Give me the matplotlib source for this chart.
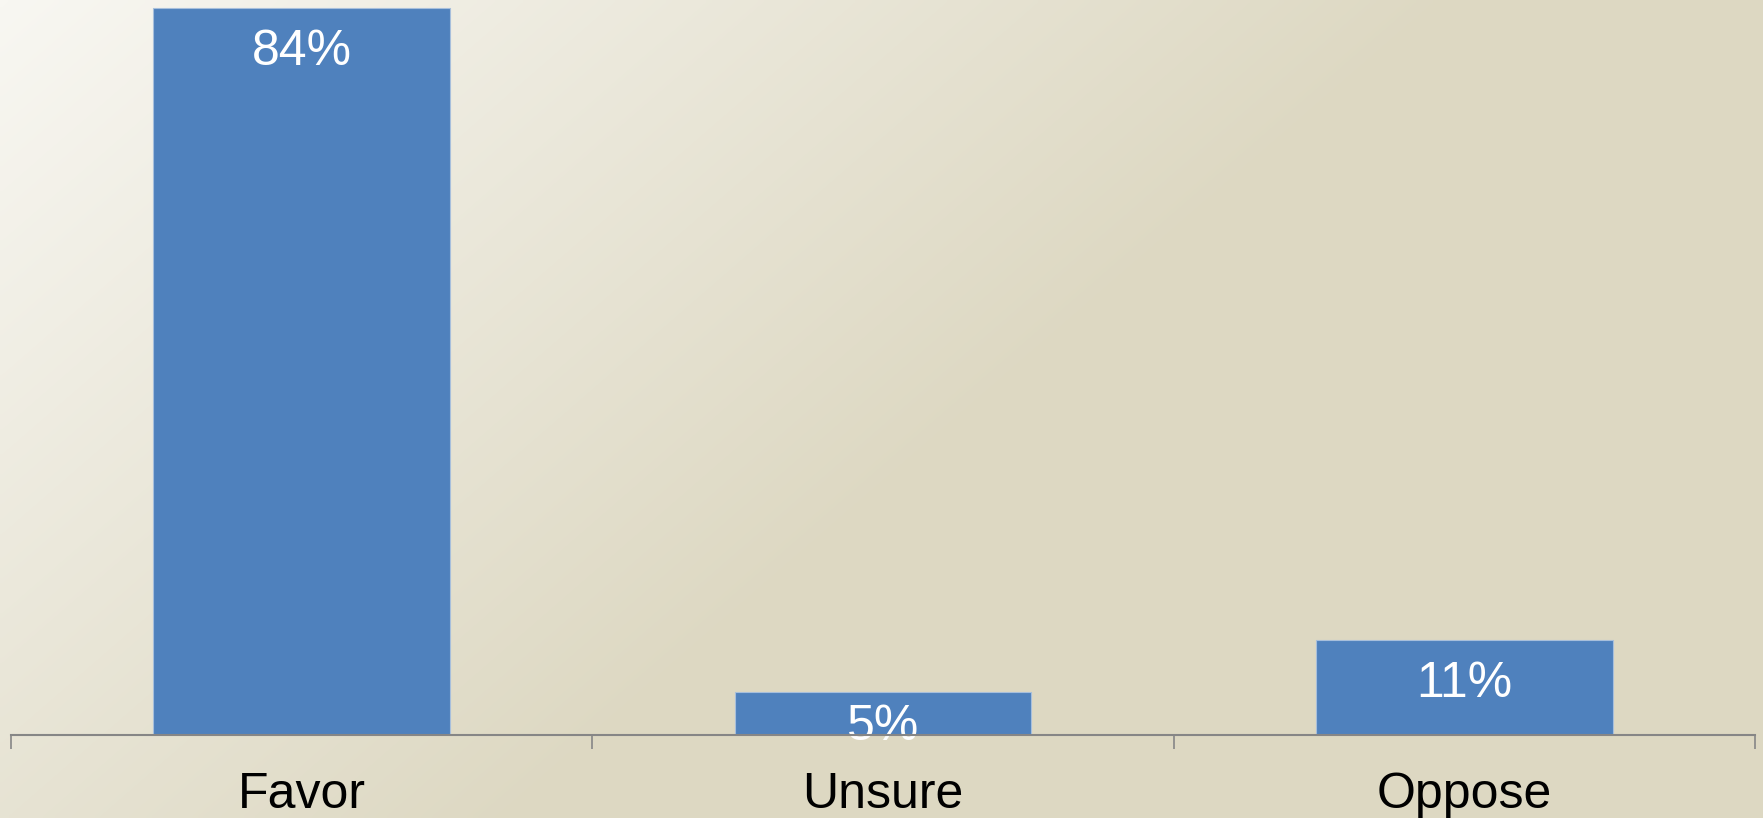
import numpy as np
import matplotlib
matplotlib.use("Agg")
from matplotlib import pyplot as plt
from matplotlib.colors import LinearSegmentedColormap

# survey results
categories = ["Favor", "Unsure", "Oppose"]
values = [84, 5, 11]
value_labels = ["84%", "5%", "11%"]

plt.rcParams['font.family'] = ['Liberation Sans', 'DejaVu Sans']

W, H, DPI = 1763, 818, 100
fig = plt.figure(figsize=(W / DPI, H / DPI), dpi=DPI)

# background gradient, light at the left / top-left, tan to the right
bg = fig.add_axes([0, 0, 1, 1], zorder=0)
gx, gy = np.meshgrid(np.linspace(0, 1, 400), np.linspace(0, 1, 200))
d = np.clip(1.2 * gx + 0.64 * gy, 0, 1)
cmap = LinearSegmentedColormap.from_list("bg", ["#f8f7f2", "#ddd8c2"])
bg.imshow(d, cmap=cmap, aspect="auto", extent=[0, 1, 0, 1], origin="upper",
          interpolation="bilinear")
bg.axis("off")

ax_h = 735
ax = fig.add_axes([11 / W, (H - ax_h) / H, (1755 - 11) / W, ax_h / H], zorder=1)
ax.patch.set_alpha(0)
ymax = 84.9

x = np.arange(len(categories))
bars = ax.bar(x, values, width=0.51, color="#4f81bd", edgecolor="#a7bfdc",
              linewidth=0.8, zorder=2)

# inside-end labels, pushed up when the bar is too short (like PowerPoint)
for b, lab in zip(bars, value_labels):
    h_pt = b.get_height() * ax_h / ymax * 72 / DPI
    off = min(32, h_pt - 6)
    ax.annotate(lab, (b.get_x() + b.get_width() / 2, b.get_height()),
                xytext=(0, -off), textcoords="offset points",
                ha="center", va="center", color="white", fontsize=36,
                zorder=3, annotation_clip=False)

ax.set_xlim(-0.5, 2.5)
ax.set_ylim(0, ymax)
for s in ["top", "left", "right"]:
    ax.spines[s].set_visible(False)
ax.spines["bottom"].set_color("#868686")
ax.spines["bottom"].set_linewidth(1.5)
ax.spines["bottom"].set_zorder(4)
ax.set_yticks([])

ax.set_xticks([-0.5, 0.5, 1.5, 2.5])
ax.set_xticklabels([])
ax.tick_params(axis="x", which="major", direction="out", length=10,
               width=1.2, color="#868686")
ax.set_xticks(x, minor=True)
ax.set_xticklabels(categories, minor=True, fontsize=36, color="black")
ax.tick_params(axis="x", which="minor", length=0, pad=27)

fig.savefig("out.png", dpi=DPI)
